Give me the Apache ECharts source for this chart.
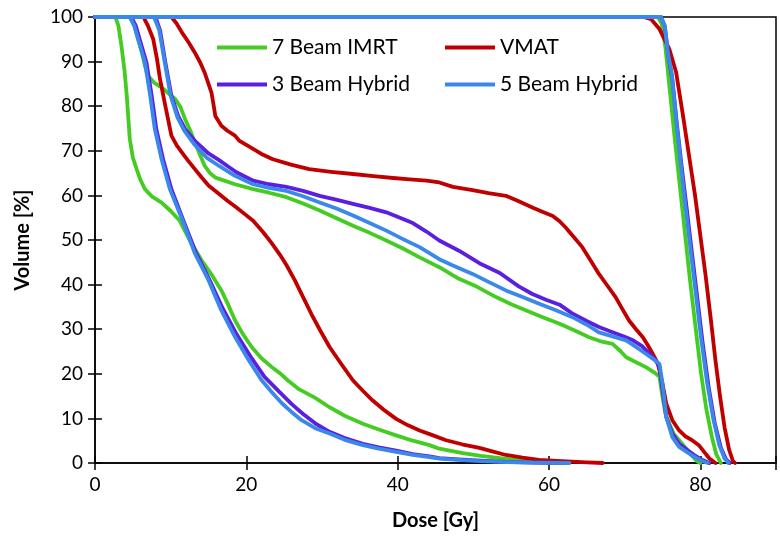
<!DOCTYPE html>
<html>
<head>
<meta charset="utf-8">
<script src="https://cdn.jsdelivr.net/npm/echarts@6/dist/echarts.min.js"></script>
<style>html,body{margin:0;padding:0;background:#fff}#c{width:780px;height:543px}</style>
</head>
<body>
<div id="c"></div>
<script>
// ---- data: dose [Gy], volume [%] ----
const techniques = ['7 Beam IMRT', 'VMAT', '3 Beam Hybrid', '5 Beam Hybrid'];
const xTicks = [0, 20, 40, 60, 80];
const yTicks = [0, 10, 20, 30, 40, 50, 60, 70, 80, 90, 100];

const imrtPTV = [[0,100],[74.4,100],[74.9,98.5],[75.4,93],[76,83],[76.6,73],[77.3,62],[78,51],[78.7,40],[79.4,30],[80.1,20],[80.8,12],[81.5,6],[82.1,2],[82.7,0]];
const imrtOAR1 = [[0,100],[4.6,100],[5.2,98],[5.7,95],[6.2,92],[6.6,89],[7.0,86.8],[7.8,85.3],[8.8,84.2],[10.6,81.6],[11.3,79.8],[11.9,77.1],[12.6,74.5],[13.2,71.9],[13.9,69],[14.5,66.6],[15.2,65],[15.9,64],[16.4,63.7],[18.5,62.5],[20.9,61.4],[23,60.6],[25.3,59.6],[27.5,58.2],[29.7,56.6],[32,54.8],[34.1,53.2],[36.3,51.6],[38.5,49.9],[40.7,48.1],[42.9,46.1],[45.5,43.9],[48.1,41.3],[50.5,39.5],[53,37.2],[55,35.6],[57,34.2],[59,32.8],[61.4,31.2],[63.4,29.7],[65.3,28.2],[67,27.2],[68.4,26.7],[69.5,25],[70.2,23.7],[71.5,22.6],[72.8,21.5],[74,20.2],[74.6,19.3],[75,14.8],[75.4,11],[75.9,8.8],[76.5,6.5],[77.2,5.1],[78,3.5],[78.8,1.8],[79.5,0.5],[80,0]];
const imrtOAR2 = [[0,100],[2.7,100],[3.1,98],[3.5,93.5],[3.9,88],[4.2,82.3],[4.6,72.6],[5.0,68.5],[5.5,65.9],[6.0,63.5],[6.6,61.4],[7.5,59.8],[8.8,58.4],[10,56.5],[11.2,54.3],[12.5,50],[14.1,45.4],[15.5,42],[16.7,38.7],[17.6,35.5],[18.5,32],[19.5,29],[20.7,26],[22,23.5],[23.3,21.6],[24.4,20.2],[25.5,18.5],[27,16.5],[29.1,14.6],[31,12.5],[33,10.6],[35.4,8.8],[37.5,7.5],[39.8,6.2],[42,5],[44.2,4],[45.5,3.2],[48.6,2.2],[51,1.6],[53.5,1.1],[56,0.6],[58.7,0.2],[61,0]];

const vmatPTV = [[0,100],[72.5,100],[73.5,99.5],[74.6,97.3],[75.9,92.8],[76.8,87.6],[77.7,78],[78.5,69],[79.3,60],[80,51],[80.7,42],[81.4,32],[82,23],[82.6,15],[83.2,8],[83.8,3],[84.3,0.5],[84.6,0]];
const vmatOAR1 = [[0,100],[10.1,100],[10.8,98.5],[11.5,96.5],[12.3,94.5],[13.2,92],[13.9,89.8],[14.5,87.5],[15.0,85],[15.4,83],[15.7,80],[15.9,77.8],[16.7,75.6],[17.5,74.5],[18.5,73.4],[19.1,72.2],[20.5,70.8],[22,69.3],[23.5,68.1],[25.9,66.9],[28.3,65.9],[31.2,65.3],[34.1,64.8],[36.8,64.3],[39.4,63.9],[41.6,63.6],[43.8,63.3],[45.5,62.9],[47.3,61.9],[49.9,61.2],[52,60.5],[54.3,59.9],[56,58.7],[57.8,57.3],[59.2,56.3],[60.5,55.4],[61.4,54.2],[62.2,52.8],[63.3,50.6],[64.4,48.4],[65.5,45.4],[66.6,42.4],[67.7,39.8],[68.8,37.2],[69.7,34.5],[70.6,31.9],[71.5,30],[72.4,28.2],[73.1,26.3],[73.7,24.5],[74.4,22.2],[75,17.8],[75.5,13.3],[76.3,9.6],[77.2,7.3],[78,6],[79,5],[79.8,4],[80.5,2.5],[81.2,1],[82,0]];
const vmatOAR2 = [[0,100],[6.4,100],[7.0,98],[7.7,95],[8.2,90.5],[8.6,86],[9.3,80],[10.1,73.4],[10.8,71.2],[11.5,69.6],[12.3,67.8],[13.2,65.9],[14.1,64],[15,62.2],[16.4,60.3],[17.5,58.8],[18.7,57.3],[19.8,55.8],[20.9,54.3],[22.2,51.8],[23.3,49.4],[24.4,46.8],[25.3,44.4],[26.4,41],[27.5,37.2],[28.6,33.4],[29.8,29.6],[31,26],[32.5,22.3],[34.1,18.5],[35.4,16.2],[36.7,14],[38.2,11.9],[39.8,9.9],[41.3,8.5],[42.9,7.3],[44.5,6.3],[46.4,5.1],[48.5,4.2],[50.8,3.4],[52.5,2.6],[54.3,1.8],[56.5,1.2],[58.7,0.7],[61,0.45],[63,0.3],[65,0.15],[67.1,0]];

const hyb3PTV = [[0,100],[74.8,100],[75.3,98],[75.8,91],[76.3,86],[76.9,76],[77.5,67],[78.2,57],[78.9,47],[79.6,37],[80.3,27],[81.1,17],[81.9,9],[82.7,3.5],[83.4,0.8],[83.9,0]];
const hyb3OAR1 = [[0,100],[8.0,100],[8.6,97],[9.3,89.8],[10.1,82.3],[11,77.8],[11.9,74.9],[13.2,72.2],[15,69.4],[16.4,67.9],[17.5,66.6],[18.7,65.2],[20.9,63.3],[23,62.5],[25.3,61.9],[27.5,61],[29.7,59.9],[32,59],[34.1,58.1],[36.3,57.2],[38.5,56.2],[40.3,55],[42,53.8],[43.8,51.9],[45.5,49.9],[48.1,47.6],[50.8,44.8],[53.5,42.6],[56,39.6],[57.8,37.9],[59.6,36.6],[61.4,35.5],[63,33.6],[64.9,31.9],[66.6,30.5],[68.4,29.3],[70,28.3],[71.1,27.5],[72.3,26.2],[73.3,24.5],[74.1,23],[74.6,21.5],[75,16.3],[75.5,10.3],[76.3,6.6],[77.2,4.3],[78.2,3],[79.2,1.8],[80.2,0.7],[81.2,0]];
const hyb3OAR2 = [[0,100],[4.8,100],[5.4,98],[5.9,95],[6.8,89.8],[7.5,82.3],[8.1,74.9],[9,68.1],[10.1,61.4],[11.6,54.7],[13.3,47.3],[15.1,41.2],[16.9,34.6],[18.7,28.9],[20.7,23.5],[22.4,19.3],[24.4,15.9],[26,13.2],[27.5,11],[29.1,8.9],[31,7],[33,5.6],[35.4,4.3],[37.5,3.5],[39.8,2.8],[42,2],[44.2,1.5],[45.5,1.1],[48,0.8],[51,0.5],[54.3,0.25],[58,0.1],[62,0]];

const hyb5PTV = [[0,100],[74.8,100],[75.3,98],[75.7,92],[76.2,87.6],[76.8,77.1],[77.3,68.9],[78,58],[78.7,48],[79.4,38],[80.1,28],[80.9,18],[81.7,10],[82.5,4],[83.2,1],[83.7,0]];
const hyb5OAR1 = [[0,100],[7.8,100],[8.5,97],[9.2,90],[10,82.3],[10.9,77.5],[11.8,74.5],[13.1,71.5],[14.8,68.4],[16.4,66.6],[18.5,64.4],[20.9,62.5],[23,61.7],[25.3,61],[27.5,59.8],[29.7,58.4],[32,57],[34.1,55.5],[36.3,53.8],[38.5,52.1],[40.7,50.2],[42.9,48.4],[45.5,45.7],[47.3,44.3],[49.9,42.4],[52,40.6],[54.3,38.7],[56.5,37.2],[58.7,35.7],[61,34.2],[63.1,32.7],[65,31],[66.6,29.3],[68.4,28.4],[70.2,27.5],[71.5,26],[72.8,24.5],[73.8,23.3],[74.6,22.2],[75,17.8],[75.5,10.3],[76.3,5.8],[77.2,3.6],[78.3,2.4],[79.3,1.3],[80.3,0.4],[81,0]];
const hyb5OAR2 = [[0,100],[4.6,100],[5.2,98],[5.7,95],[6.6,89.8],[7.3,82.3],[7.9,74.9],[8.8,68.1],[9.9,61.4],[11.5,54.7],[13.2,47],[15,41],[16.7,34.2],[18.5,28.3],[20.3,23.1],[22,18.6],[23.4,15.8],[24.7,13.4],[26,11.4],[27.3,9.6],[29.1,7.8],[31,6.6],[33,5.2],[35.4,4],[37.5,3.2],[39.8,2.5],[42,1.8],[44.2,1.3],[45.5,1],[48,0.7],[51,0.4],[54.3,0.2],[58,0.1],[62.7,0]];

// ---- styling ----
const colors = {'7 Beam IMRT':'#45cc22','VMAT':'#c00000','3 Beam Hybrid':'#5a1fe0','5 Beam Hybrid':'#3a88ea'};
const curves = [
  ['7 Beam IMRT', [imrtPTV, imrtOAR1, imrtOAR2]],
  ['VMAT', [vmatPTV, vmatOAR1, vmatOAR2]],
  ['3 Beam Hybrid', [hyb3PTV, hyb3OAR1, hyb3OAR2]],
  ['5 Beam Hybrid', [hyb5PTV, hyb5OAR1, hyb5OAR2]]
];
const FONT = 'Lato';
const series = [];
curves.forEach(([name, arrs]) => {
  arrs.forEach(d => series.push({
    name: name, type: 'line', data: d, showSymbol: false, symbol: 'none',
    xAxisIndex: 0, yAxisIndex: 0, animation: false,
    lineStyle: {color: colors[name], width: 3.8, cap: 'round', join: 'round'}, itemStyle: {color: colors[name]}
  }));
});

const chart = echarts.init(document.getElementById('c'), null, {renderer: 'canvas'});
const axisCommon = {axisLine: {show: false}, splitLine: {show: false}};
chart.setOption({
  animation: false,
  backgroundColor: '#fff',
  grid: {left: 95, right: 4, top: 17, bottom: 80, show: true, borderColor: '#000', borderWidth: 1.5, backgroundColor: 'transparent'},
  legend: [
    {left: 212, top: 30, orient: 'vertical', itemGap: 12, icon: 'rect', itemWidth: 50, itemHeight: 4,
     data: [techniques[0], techniques[2]], textStyle: {fontFamily: FONT, fontSize: 21, color: '#000', lineHeight: 25}},
    {left: 440, top: 30, orient: 'vertical', itemGap: 12, icon: 'rect', itemWidth: 50, itemHeight: 4,
     data: [techniques[1], techniques[3]], textStyle: {fontFamily: FONT, fontSize: 21, color: '#000', lineHeight: 25}}
  ],
  xAxis: [
    {type: 'value', min: 0, max: 90, interval: 20, position: 'bottom',
     axisLine: {show: true, lineStyle: {color: '#000', width: 1.5}},
     axisTick: {show: true, length: 7, lineStyle: {color: '#000', width: 1.5}},
     axisLabel: {fontFamily: FONT, fontSize: 19, color: '#000', margin: 12,
       formatter: v => xTicks.includes(v) ? String(v) : ''},
     splitLine: {show: false},
     name: 'Dose [Gy]', nameLocation: 'middle', nameGap: 48,
     nameTextStyle: {fontFamily: FONT, fontSize: 20, fontWeight: 'bold', color: '#000'}},
    Object.assign({type: 'value', min: 0, max: 90, interval: 20, position: 'bottom', gridIndex: 0,
     axisTick: {show: true, inside: true, length: 7, lineStyle: {color: '#000', width: 1.5}},
     axisLabel: {show: false}}, axisCommon)
  ],
  yAxis: [
    {type: 'value', min: 0, max: 100, interval: 10, position: 'left',
     axisLine: {show: true, lineStyle: {color: '#000', width: 1.5}},
     axisTick: {show: true, length: 7, lineStyle: {color: '#000', width: 1.5}},
     axisLabel: {fontFamily: FONT, fontSize: 19, color: '#000', margin: 12,
       formatter: v => yTicks.includes(v) ? String(v) : ''},
     splitLine: {show: false},
     name: 'Volume [%]', nameLocation: 'middle', nameGap: 62, nameRotate: 90,
     nameTextStyle: {fontFamily: FONT, fontSize: 20, fontWeight: 'bold', color: '#000'}},
    Object.assign({type: 'value', min: 0, max: 100, interval: 10, position: 'left', gridIndex: 0,
     axisTick: {show: true, inside: true, length: 7, lineStyle: {color: '#000', width: 1.5}},
     axisLabel: {show: false}}, axisCommon)
  ],
  series: series
});
</script>
</body>
</html>
